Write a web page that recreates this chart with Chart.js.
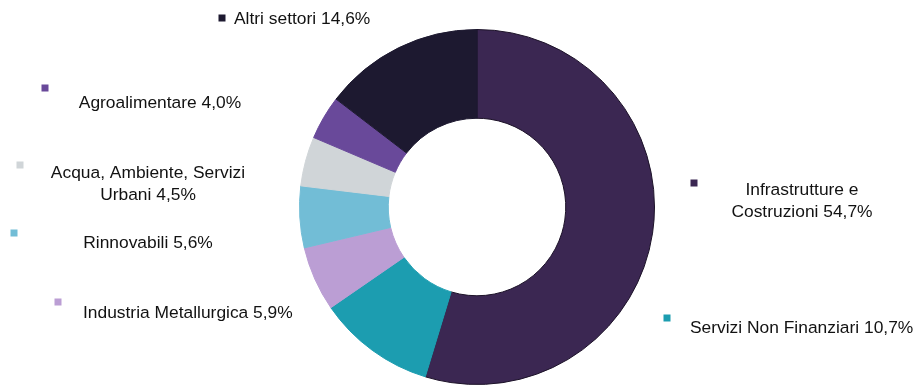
<!DOCTYPE html>
<html>
<head>
<meta charset="utf-8">
<script src="https://cdn.jsdelivr.net/npm/chart.js@4.4.0/dist/chart.umd.min.js"></script>
<style>
  html, body { margin: 0; padding: 0; background: #ffffff; }
  #wrap { width: 915px; height: 392px; position: relative; }
</style>
</head>
<body>
<div id="wrap"><canvas id="sectors-chart"></canvas></div>
<script>
const sectors = [
    'Infrastrutture e Costruzioni',
    'Servizi Non Finanziari',
    'Industria Metallurgica',
    'Rinnovabili',
    'Acqua, Ambiente, Servizi Urbani',
    'Agroalimentare',
    'Altri settori'
];
const shares = [54.7, 10.7, 5.9, 5.6, 4.5, 4.0, 14.6];
const sliceColors = ['#3b2752', '#1c9db0', '#bb9ed4', '#72bdd6', '#d0d5d8', '#69499a', '#1d1930'];
const sliceBorders = ['#1c1228', '#1c9db0', '#bb9ed4', '#72bdd6', '#d0d5d8', '#69499a', '#1d1930'];

// label text lines per slice (value text is appended from shares)
const labelLines = [
    ['Infrastrutture e', 'Costruzioni '],
    ['Servizi Non Finanziari '],
    ['Industria Metallurgica '],
    ['Rinnovabili '],
    ['Acqua, Ambiente, Servizi', 'Urbani '],
    ['Agroalimentare '],
    ['Altri settori ']
];

// where each label sits: key square and text anchor
const labelSpots = [
    { key: [694, 183], text: [802, 190], align: 'center' },
    { key: [667, 318], text: [690, 328], align: 'left' },
    { key: [58, 302],  text: [83, 313],  align: 'left' },
    { key: [14, 233],  text: [148, 243], align: 'center' },
    { key: [20, 165],  text: [148, 173], align: 'center' },
    { key: [45, 88],   text: [160, 103], align: 'center' },
    { key: [222, 18],  text: [234, 19],  align: 'left' }
];

const formatShare = (v) => v.toFixed(1).replace('.', ',') + '%';

const outsideLabels = {
    id: 'outsideLabels',
    afterDraw: (chart) => {
        const ctx = chart.ctx;
        ctx.save();
        ctx.font = '17.4px "Liberation Sans", Arial, sans-serif';
        ctx.textBaseline = 'middle';
        labelSpots.forEach((spot, i) => {
            ctx.fillStyle = sliceColors[i];
            ctx.fillRect(spot.key[0] - 3.5, spot.key[1] - 3.5, 7, 7);
            ctx.fillStyle = '#121212';
            ctx.textAlign = spot.align;
            const lines = labelLines[i].slice();
            lines[lines.length - 1] += formatShare(shares[i]);
            lines.forEach((line, j) => {
                ctx.fillText(line, spot.text[0], spot.text[1] + j * 22.5);
            });
        });
        ctx.restore();
    }
};

const canvas = document.getElementById('sectors-chart');

const chart = new Chart(canvas, {
    type: 'doughnut',
    data: {
        labels: sectors,
        datasets: [{
            data: shares,
            backgroundColor: sliceColors,
            borderColor: sliceBorders,
            borderWidth: 1
        }]
    },
    options: {
        responsive: true,
        maintainAspectRatio: false,
        animation: false,
        cutout: '50%',
        layout: { padding: { top: 29, bottom: 7, left: 299, right: 260 } },
        plugins: {
            legend: { display: false },
            tooltip: { enabled: false }
        }
    },
    plugins: [outsideLabels]
});
</script>
</body>
</html>
